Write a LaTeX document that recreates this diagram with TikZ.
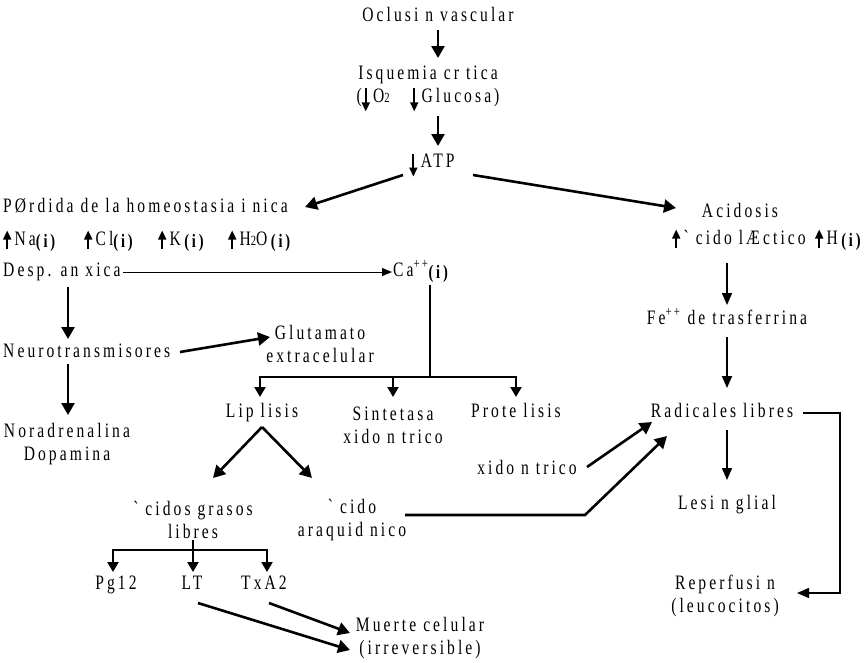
\documentclass[tikz,border=0pt]{standalone}
\usepackage{fontspec}
\setmainfont{Liberation Serif}[FakeStretch=0.76, LetterSpace=15, Ligatures=TeXOff]
\usetikzlibrary{arrows.meta}

% small inline arrows used inside the labels
\newcommand\uparr{\tikz[baseline=0pt]\draw[line width=1.8pt,-{Triangle[length=9pt,width=8pt]}] (0pt,-3pt)--(0pt,15pt);\,}
\newcommand\dnarr{\tikz[baseline=0pt]\draw[line width=1.8pt,-{Triangle[length=9pt,width=8pt]}] (0pt,14pt)--(0pt,-9pt);\,}
\newcommand\ii{\raisebox{-2pt}{\bfseries\fontsize{19}{19}\selectfont(i)}}
\newcommand\sml[1]{{\fontsize{14}{14}\selectfont #1}}

\begin{document}
\begin{tikzpicture}[x=1pt,y=-1pt,
  lbl/.style={inner sep=0pt, text height=13pt, text depth=4pt, font=\fontsize{20.5}{23}\selectfont},
  ml/.style={inner sep=0pt, align=center, font=\fontsize{20.5}{23}\selectfont},
  big/.style={line width=2.6pt, -{Triangle[length=12pt,width=13pt]}},
  med/.style={line width=2.2pt, -{Triangle[length=10pt,width=11pt]}},
  mid/.style={line width=1.6pt, -{Triangle[length=12pt,width=10pt]}},
  slim/.style={line width=1pt, -{Triangle[length=10pt,width=8pt]}},
  plain/.style={line width=2.2pt}]
\useasboundingbox (0,0) rectangle (867,662);

% nodes
\node[lbl] (ocl) at (438,17) {Oclusi n vascular};
\node[ml] (isq) at (428,89) {Isquemia cr tica\\(\dnarr O\sml{2}\quad\dnarr Glucosa)};
\node[lbl] (atp) at (432,163) {\dnarr ATP};
\node[lbl,anchor=west] (per) at (3,208) {PØrdida de la homeostasia i nica};
\node[lbl,anchor=west] (na) at (3,241) {\uparr Na\ii};
\node[lbl,anchor=west] (cl) at (84,241) {\uparr Cl\ii};
\node[lbl,anchor=west] (k) at (158,241) {\uparr K\,\ii};
\node[lbl,anchor=west] (hho) at (228,241) {\uparr H\sml{2}O\,\ii};
\node[lbl,anchor=west] (desp) at (3,272) {Desp. an xica};
\node[lbl,anchor=west] (ca) at (393,272) {Ca\textsuperscript{++}\ii};
\node[lbl] (acid) at (740,213) {Acidosis};
\node[lbl,anchor=west] (lac) at (672,240) {\uparr` cido lÆctico};
\node[lbl,anchor=west] (hion) at (815,240) {\uparr H\,\ii};
\node[lbl] (fe) at (727,320) {Fe\textsuperscript{++} de trasferrina};
\node[lbl] (rad) at (722,413) {Radicales libres};
\node[lbl] (les) at (727,505) {Lesi n glial};
\node[ml] (rep) at (725,596) {Reperfusi n\\(leucocitos)};
\node[lbl,anchor=west] (neu) at (3,353) {Neurotransmisores};
\node[ml] (glu) at (320,344) {Glutamato\\extracelular};
\node[ml] (nor) at (67,444) {Noradrenalina\\Dopamina};
\node[lbl] (lip) at (262,413) {Lip lisis};
\node[ml] (sin) at (393,425) {Sintetasa\\ xido n trico};
\node[lbl] (pro) at (516,413) {Prote lisis};
\node[lbl] (oxn) at (527,470) {xido n trico};
\node[ml] (agl) at (193,520) {` cidos grasos\\libres};
\node[ml] (ara) at (352,520) {` cido\\araquid nico};
\node[lbl] (pg) at (116,585) {Pg12};
\node[lbl] (lt) at (192,585) {LT};
\node[lbl] (tx) at (264,585) {TxA2};
\node[ml] (mue) at (420,638) {Muerte celular\\(irreversible)};

% branch points
\coordinate (cabr) at (430,377);
\coordinate (aglbr) at (193,550);

% main chain
\draw[big] ([shift={(0,13)}]ocl.center) -- ([shift={(10,-31)}]isq.center);
\draw[big] ([shift={(10,27)}]isq.center) -- ([shift={(6,-17)}]atp.center);
\draw[big] ([shift={(-29,12)}]atp.center) -- ([shift={(302,-1)}]per.west);
\draw[big] ([shift={(41,12)}]atp.center) -- ([shift={(-64,-5)}]acid.center);

% ionic branch
\draw[slim] ([shift={(120,0)}]desp.west) -- ([shift={(-1,0)}]ca.west);
\draw[big] ([shift={(65,15)}]desp.west) -- ([shift={(65,-14)}]neu.west);
\draw[big] ([shift={(65,11)}]neu.west) -- ([shift={(1,-29)}]nor.center);
\draw[big] ([shift={(177,-1)}]neu.west) -- ([shift={(-50,-7)}]glu.center);

% calcium tree
\draw[plain] ([shift={(37,13)}]ca.west) -- (cabr);
\draw[med] (cabr) -| ([shift={(-2,-16)}]lip.center);
\draw[med] (cabr) -| ([shift={(0,-28)}]sin.center);
\draw[med] (cabr) -| ([shift={(0,-16)}]pro.center);

% lipolysis
\draw[big] ([shift={(0,14)}]lip.center) -- ([shift={(20,-42)}]agl.center);
\draw[big] ([shift={(0,14)}]lip.center) -- ([shift={(-40,-42)}]ara.center);
\draw[plain] ([shift={(0,20)}]agl.center) -- (aglbr);
\draw[med] (aglbr) -| ([shift={(-3,-13)}]pg.center);
\draw[med] (aglbr) -| ([shift={(1,-13)}]lt.center);
\draw[med] (aglbr) -| ([shift={(3,-13)}]tx.center);
\draw[big] ([shift={(6,18)}]lt.center) -- ([shift={(-70,12)}]mue.center);
\draw[big] ([shift={(5,18)}]tx.center) -- ([shift={(-70,-5)}]mue.center);

% free radicals
\draw[big] ([shift={(53,-5)}]ara.center) -- ++(180,0) -- ([shift={(-55,23)}]rad.center);
\draw[big] ([shift={(60,-3)}]oxn.center) -- ([shift={(-70,9)}]rad.center);
\draw[mid] ([shift={(55,23)}]lac.west) -- ([shift={(0,-15)}]fe.center);
\draw[mid] ([shift={(0,17)}]fe.center) -- ([shift={(5,-25)}]rad.center);
\draw[mid] ([shift={(5,17)}]rad.center) -- ([shift={(0,-25)}]les.center);
\draw[mid] ([shift={(81,0)}]rad.center) -- ++(37,0) |- ([shift={(72,-3)}]rep.center);
\end{tikzpicture}
\end{document}
